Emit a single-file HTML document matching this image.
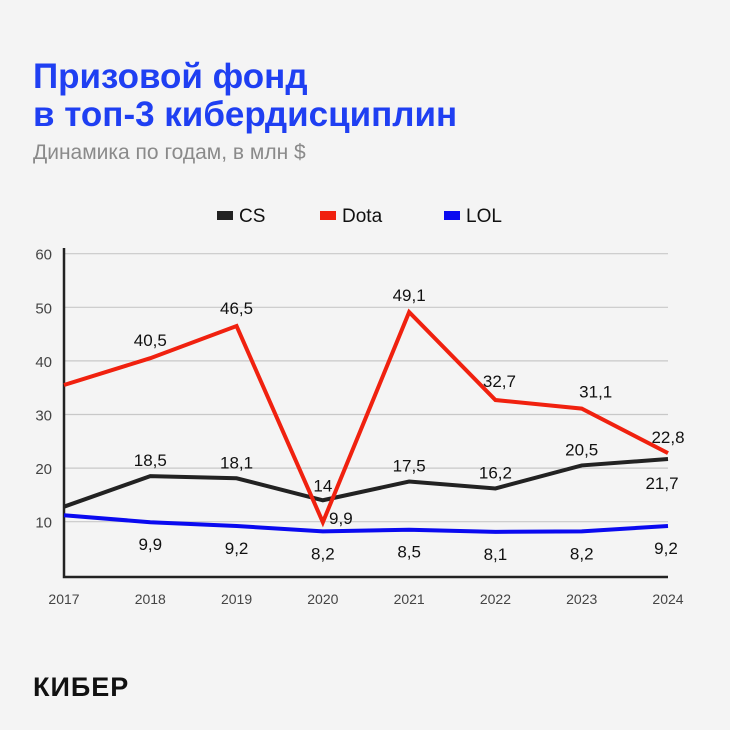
<!DOCTYPE html>
<html><head><meta charset="utf-8">
<style>
body{margin:0;width:730px;height:730px;background:#f4f4f4;font-family:"Liberation Sans",sans-serif;overflow:hidden;position:relative}
.t{position:absolute;left:33px;color:#1f3ff2;font-weight:bold;font-size:35px;line-height:38px}
.s{position:absolute;left:33px;top:141px;color:#8a8a8a;font-size:21px}
.logo{position:absolute;left:33px;top:672px;font-weight:900;font-size:27px;letter-spacing:1px;color:#111}
</style></head><body>
<div class="t" style="top:58px">Призовой фонд<br>в топ-3 кибердисциплин</div>
<div class="s">Динамика по годам, в млн $</div>
<div class="logo">КИБЕР</div>
<svg id="c" width="730" height="730" style="position:absolute;left:0;top:0"></svg>
<script>
const years=["2017","2018","2019","2020","2021","2022","2023","2024"];
const cs=[12.8,18.5,18.1,14,17.5,16.2,20.5,21.7];
const dota=[35.5,40.5,46.5,9.9,49.1,32.7,31.1,22.8];
const lol=[11.2,9.9,9.2,8.2,8.5,8.1,8.2,9.2];
const yTicks=[10,20,30,40,50,60];
const csLabels=[null,"18,5","18,1","14","17,5","16,2","20,5","21,7"];
const dotaLabels=[null,"40,5","46,5","9,9","49,1","32,7","31,1","22,8"];
const lolLabels=[null,"9,9","9,2","8,2","8,5","8,1","8,2","9,2"];
const svg=document.getElementById('c');const NS="http://www.w3.org/2000/svg";
const x=i=>64+i*(668-64)/7, y=v=>575.3-v*5.36;
function el(t,a,txt){const e=document.createElementNS(NS,t);for(const k in a)e.setAttribute(k,a[k]);if(txt!=null)e.textContent=txt;svg.appendChild(e);return e;}
yTicks.forEach(v=>{const g=el('line',{x1:64,x2:668,y1:y(v),y2:y(v),stroke:'#c8c8c8','stroke-width':1.2});

const t=el('text',{x:52,y:y(v)+6,'text-anchor':'end','font-size':15,fill:'#444'},v);
});
years.forEach((yr,i)=>{const t=el('text',{x:x(i),y:604,'text-anchor':'middle','font-size':14,fill:'#444'},yr);
});
const ax=el('path',{d:'M64 248V577H668',fill:'none',stroke:'#222','stroke-width':2.5});

function series(d,c,nm,labs,off){const p=el('polyline',{points:d.map((v,i)=>x(i)+','+y(v)).join(' '),fill:'none',stroke:c,'stroke-width':4,'stroke-linejoin':'miter'});

labs.forEach((l,i)=>{if(!l)return;const o=off(i);
const t=el('text',{x:x(i)+o[0],y:y(d[i])+o[1],'text-anchor':'middle','font-size':17,fill:'#111'},l);
});}
series(lol,'#0a0af0','lol',lolLabels,i=>[i==7?-2:0,28]);
series(cs,'#222','cs',csLabels,i=>i==7?[-6,30]:(i==3?[0,-9]:[0,-10]));
series(dota,'#f0210f','dota',dotaLabels,i=>i==3?[18,2]:(i==5?[4,-13]:(i==6?[14,-11]:(i==7?[0,-10]:(i==4?[0,-11]:[0,-12])))));
[["#222","CS",217],["#f0210f","Dota",320],["#0a0af0","LOL",444]].forEach(([c,n,lx])=>{
const r=el('rect',{x:lx,y:211,width:16,height:9,fill:c});
const t=el('text',{x:lx+22,y:222,'font-size':19,fill:'#111'},n);});
</script>
</body></html>
